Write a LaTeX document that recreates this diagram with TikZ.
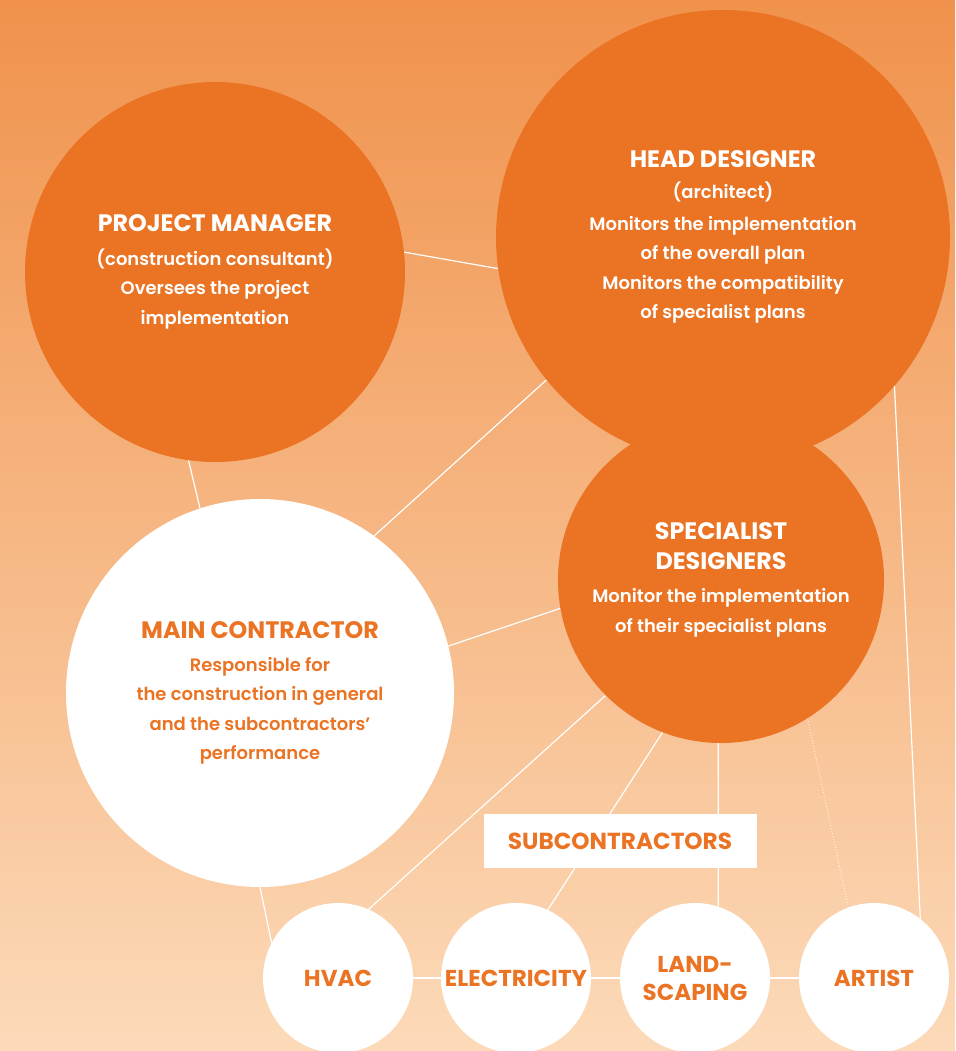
\documentclass[tikz,border=0pt]{standalone}
\usepackage{fontspec}
\setmainfont{Poppins}[UprightFont=* SemiBold, BoldFont=* Bold]
\usetikzlibrary{backgrounds}
\definecolor{cborange}{HTML}{EB7424}
\definecolor{cbtop}{HTML}{F0924C}
\definecolor{cbbottom}{HTML}{FCDAB9}
\newcommand{\headline}[1]{\textbf{\fontsize{23.8}{28}\selectfont #1}}

\begin{document}
\begin{tikzpicture}[
    x=1pt, y=-1pt,
    bubble/.style={circle, inner sep=0pt, align=center, font=\fontsize{18}{29.5}\selectfont},
    hub/.style={bubble, fill=cborange, text=white},
    member/.style={bubble, fill=white, text=cborange},
    trade/.style={member, minimum size=150pt, font=\bfseries\fontsize{23}{28}\selectfont},
    tag/.style={rectangle, fill=white, text=cborange, minimum width=273pt, minimum height=54pt, font=\bfseries\fontsize{23.2}{24}\selectfont},
    link/.style={draw=white, line width=1.2pt}
]

% Background gradient
\begin{scope}[on background layer]
  \shade[top color=cbtop, bottom color=cbbottom] (0,0) rectangle (955,1051);
\end{scope}
\clip (0,0) rectangle (955,1051);

% Design side
\node[hub, minimum size=380pt] (pm) at (215,272) {\headline{PROJECT MANAGER}\\[4pt]
  (construction consultant)\\ Oversees the project\\ implementation};
\node[hub, minimum size=454pt] (hd) at (723,237) {\headline{HEAD DESIGNER}\\[2pt]
  (architect)\\[2pt] Monitors the implementation\\ of the overall plan\\ Monitors the compatibility\\ of specialist plans};
\node[hub, minimum size=326pt] (sd) at (721,580) {\headline{SPECIALIST}\\ \headline{DESIGNERS}\\[4pt]
  Monitor the implementation\\ of their specialist plans};

% Construction side
\node[member, minimum size=388pt] (mc) at (260,693) {\headline{MAIN CONTRACTOR}\\[3pt]
  Responsible for\\ the construction in general\\ and the subcontractors'\\ performance};
\node[tag] (subs) at (620,841) {SUBCONTRACTORS};
\node[trade] (hvac) at (338,978) {HVAC};
\node[trade] (elec) at (516,978) {ELECTRICITY};
\node[trade] (land) at (695,978) {LAND-\\SCAPING};
\node[trade] (artist) at (874,978) {ARTIST};

% Links
\begin{scope}[on background layer]
  \draw[link] (pm.6) -- (hd.188);
  \draw[link] (pm.262) -- (mc.108);
  \draw[link] (hd.219) -- (mc.54);
  \draw[link] (sd.190) -- (mc.14);
  \draw[link] (hd.319) -- (artist.52);
  \draw[link, line width=0.8pt, dotted] (sd.302) -- (artist.110);
  \draw[link] (sd.225) -- (hvac.66);
  \draw[link] (sd.249) -- (elec.65);
  \draw[link] (sd.269) -- (land.72);
  \draw[link] (mc.270) -- (hvac.152);
  \draw[link] (hvac.east) -- (elec.west);
  \draw[link] (elec.east) -- (land.west);
  \draw[link] (land.east) -- (artist.west);
\end{scope}

\end{tikzpicture}
\end{document}
